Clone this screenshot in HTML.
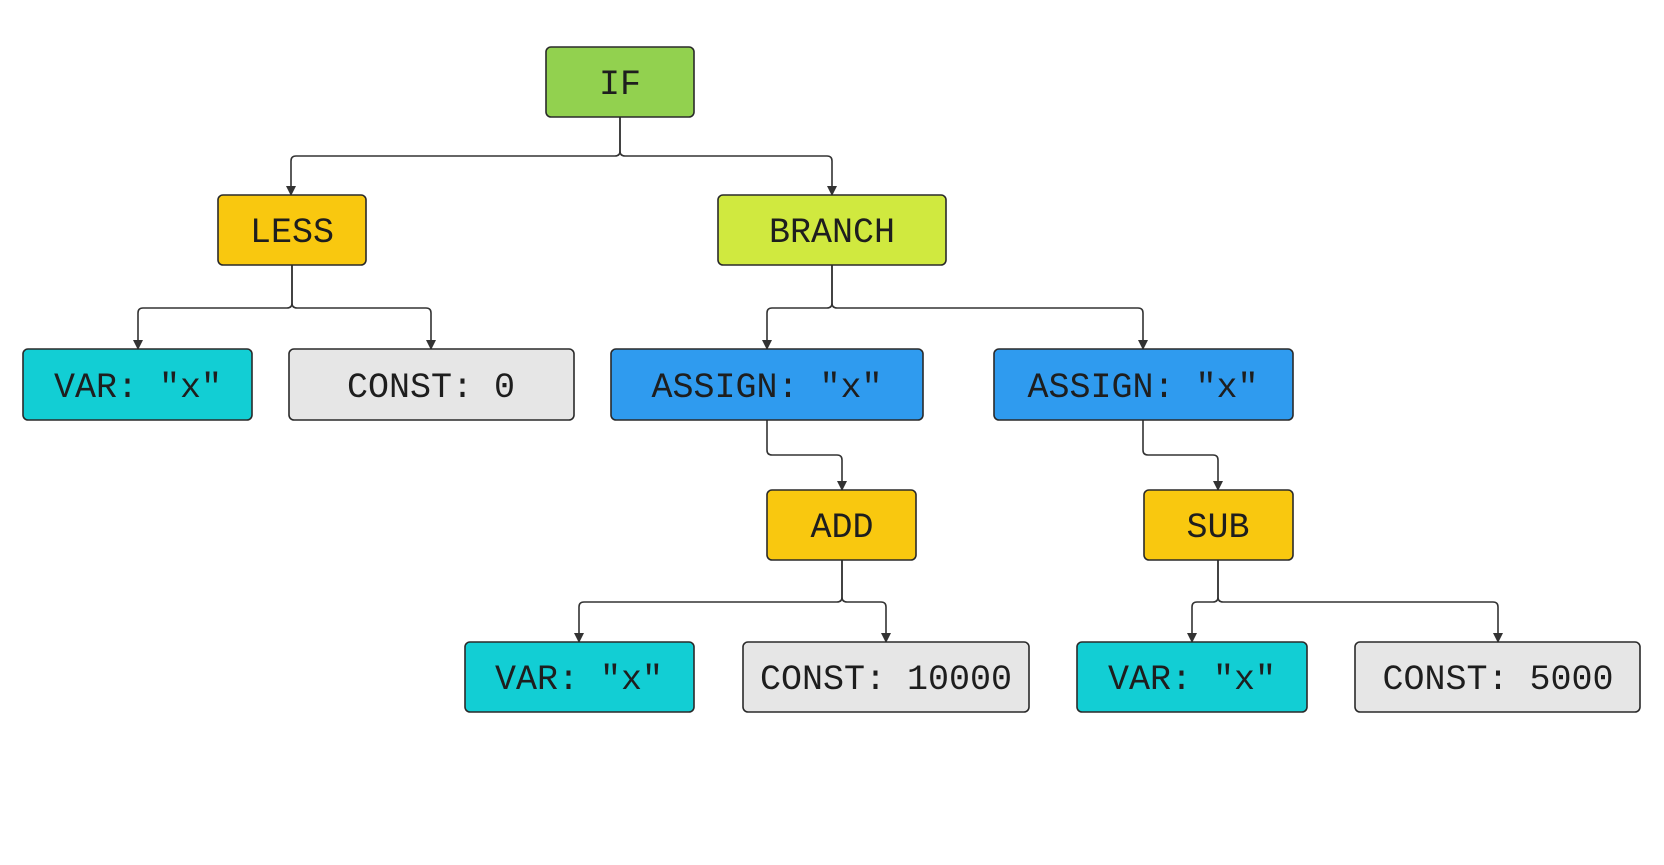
<!DOCTYPE html>
<html><head><meta charset="utf-8"><style>
html,body{margin:0;padding:0;background:#fff;}
svg{display:block;}
text{font-family:"Liberation Mono",monospace;font-size:35px;fill:#1e1e1e;text-anchor:middle;}
rect{stroke:#2a2a2a;stroke-width:1.6;}
path.c{fill:none;stroke:#333;stroke-width:1.6;}
</style></head><body>
<svg width="1664" height="865" viewBox="0 0 1664 865" xmlns="http://www.w3.org/2000/svg">
<defs>
<marker id="a" markerWidth="10" markerHeight="10" refX="5" refY="9" orient="auto" markerUnits="userSpaceOnUse" viewBox="0 0 10 10">
<path d="M0,0 L10,0 L5,9 Z" fill="#333" transform="rotate(-90 5 5)"/>
</marker>
</defs>
<g fill="#333">
</g>
<!-- connectors -->
<path class="c" d="M620,117 V151 Q620,156 615,156 H296 Q291,156 291,161 V195"/>
<path class="c" d="M620,117 V151 Q620,156 625,156 H827 Q832,156 832,161 V195"/>
<path class="c" d="M292,265 V303 Q292,308 287,308 H143 Q138,308 138,313 V349"/>
<path class="c" d="M292,265 V303 Q292,308 297,308 H426 Q431,308 431,313 V349"/>
<path class="c" d="M832,265 V303 Q832,308 827,308 H772 Q767,308 767,313 V349"/>
<path class="c" d="M832,265 V303 Q832,308 837,308 H1138 Q1143,308 1143,313 V349"/>
<path class="c" d="M767,420 V450 Q767,455 772,455 H837 Q842,455 842,460 V490"/>
<path class="c" d="M1143,420 V450 Q1143,455 1148,455 H1213 Q1218,455 1218,460 V490"/>
<path class="c" d="M842,560 V597 Q842,602 837,602 H584 Q579,602 579,607 V642"/>
<path class="c" d="M842,560 V597 Q842,602 847,602 H881 Q886,602 886,607 V642"/>
<path class="c" d="M1218,560 V597 Q1218,602 1213,602 H1197 Q1192,602 1192,607 V642"/>
<path class="c" d="M1218,560 V597 Q1218,602 1223,602 H1493 Q1498,602 1498,607 V642"/>
<!-- arrowheads -->
<g fill="#333">
<path d="M286,186 L296,186 L291,196 Z"/>
<path d="M827,186 L837,186 L832,196 Z"/>
<path d="M133,340 L143,340 L138,350 Z"/>
<path d="M426,340 L436,340 L431,350 Z"/>
<path d="M762,340 L772,340 L767,350 Z"/>
<path d="M1138,340 L1148,340 L1143,350 Z"/>
<path d="M837,481 L847,481 L842,491 Z"/>
<path d="M1213,481 L1223,481 L1218,491 Z"/>
<path d="M574,633 L584,633 L579,643 Z"/>
<path d="M881,633 L891,633 L886,643 Z"/>
<path d="M1187,633 L1197,633 L1192,643 Z"/>
<path d="M1493,633 L1503,633 L1498,643 Z"/>
</g>
<!-- nodes -->
<rect x="546" y="47" width="148" height="70" rx="5" fill="#92d14f"/>
<text x="620" y="94">IF</text>
<rect x="218" y="195" width="148" height="70" rx="5" fill="#f9c80f"/>
<text x="292" y="242">LESS</text>
<rect x="718" y="195" width="228" height="70" rx="5" fill="#d0e93f"/>
<text x="832" y="242">BRANCH</text>
<rect x="23" y="349" width="229" height="71" rx="5" fill="#12ced4"/>
<text x="138" y="397">VAR: "x"</text>
<rect x="289" y="349" width="285" height="71" rx="5" fill="#e6e6e6"/>
<text x="431" y="397">CONST: 0</text>
<rect x="611" y="349" width="312" height="71" rx="5" fill="#2f9bef"/>
<text x="767" y="397">ASSIGN: "x"</text>
<rect x="994" y="349" width="299" height="71" rx="5" fill="#2f9bef"/>
<text x="1143" y="397">ASSIGN: "x"</text>
<rect x="767" y="490" width="149" height="70" rx="5" fill="#f9c80f"/>
<text x="842" y="537">ADD</text>
<rect x="1144" y="490" width="149" height="70" rx="5" fill="#f9c80f"/>
<text x="1218" y="537">SUB</text>
<rect x="465" y="642" width="229" height="70" rx="5" fill="#12ced4"/>
<text x="579" y="689">VAR: "x"</text>
<rect x="743" y="642" width="286" height="70" rx="5" fill="#e6e6e6"/>
<text x="886" y="689">CONST: 10000</text>
<rect x="1077" y="642" width="230" height="70" rx="5" fill="#12ced4"/>
<text x="1192" y="689">VAR: "x"</text>
<rect x="1355" y="642" width="285" height="70" rx="5" fill="#e6e6e6"/>
<text x="1498" y="689">CONST: 5000</text>
</svg>
</body></html>
